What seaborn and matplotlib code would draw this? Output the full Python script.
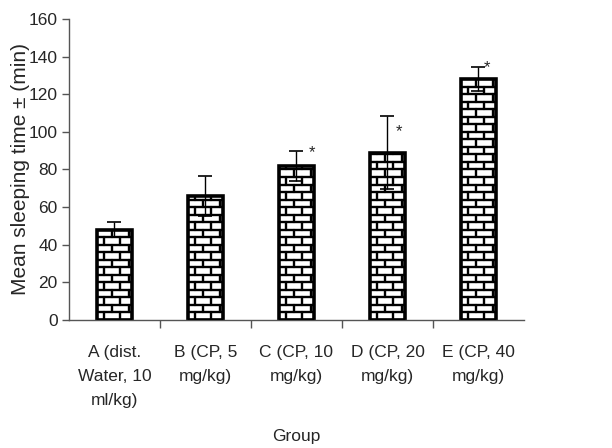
import numpy as np
import pandas as pd
import matplotlib
matplotlib.use('Agg')
import matplotlib.pyplot as plt
import seaborn as sns

# data
groups = ['A (dist.\nWater, 10\nml/kg)', 'B (CP, 5\nmg/kg)', 'C (CP, 10\nmg/kg)',
          'D (CP, 20\nmg/kg)', 'E (CP, 40\nmg/kg)']
mean_sleep = [48, 66, 82, 89, 128]
sem_sleep = [4, 10.5, 8, 19.5, 6.5]
star_y = [None, None, 89, 100, 134]   # where the * marks sit

df = pd.DataFrame({'group': groups, 'mean': mean_sleep})

sns.set_style('white')
plt.rcParams['font.family'] = ['Liberation Sans', 'DejaVu Sans']

fig = plt.figure(figsize=(6.12, 4.48), dpi=100)
ax = fig.add_axes([0.1127, 0.2857, 0.7435, 0.672])

sns.barplot(data=df, x='group', y='mean', color='white', edgecolor='black',
            linewidth=2.6, width=0.39, errorbar=None, ax=ax, zorder=2)

# brick pattern clipped to each bar
row_h = 4.0
brick_w = 0.18
for i, patch in enumerate(ax.patches):
    x0 = patch.get_x()
    w = patch.get_width()
    h = patch.get_height()
    rows = np.arange(0, h, row_h)
    for k, y in enumerate(rows):
        l = ax.plot([x0, x0 + w], [y, y], color='black', lw=1.7, zorder=3)[0]
        l.set_clip_path(patch)
        off = 0 if k % 2 == 0 else brick_w / 2
        for xv in np.arange(x0 + off + brick_w * 0.45, x0 + w, brick_w):
            v = ax.plot([xv, xv], [y, y + row_h], color='black', lw=1.7, zorder=3)[0]
            v.set_clip_path(patch)

ax.errorbar(range(len(groups)), mean_sleep, yerr=sem_sleep, fmt='none',
            ecolor='black', elinewidth=1, capsize=5, capthick=1.2, zorder=4)

star_dx = [0, 0, 0.14, 0.09, 0.06]
for i, sy in enumerate(star_y):
    if sy is not None:
        ax.text(i + star_dx[i], sy, '*', fontsize=12, ha='left', va='center')

ax.set_ylim(0, 160)
ax.set_xlim(-0.5, len(groups) - 0.5)
ax.set_yticks(range(0, 161, 20))
ax.tick_params(axis='y', direction='out', length=5, width=1, color='#555555',
               labelsize=12.5, pad=3, left=True)
ax.set_xticks(np.arange(0.5, len(groups) - 0.5, 1), minor=True)
ax.tick_params(axis='x', which='minor', direction='out', length=6, width=1,
               color='#555555', bottom=True)
ax.tick_params(axis='x', which='major', length=0, labelsize=12.5, pad=18)
for lab in ax.get_xticklabels():
    lab.set_linespacing(1.75)

for side in ['top', 'right']:
    ax.spines[side].set_visible(False)
for side in ['left', 'bottom']:
    ax.spines[side].set_color('#555555')
    ax.spines[side].set_linewidth(1)

ax.set_ylabel('Mean sleeping time ± (min)', fontsize=15, labelpad=-1)
ax.set_xlabel('Group', fontsize=12.5, labelpad=15)

fig.savefig('out.png', dpi=100)
